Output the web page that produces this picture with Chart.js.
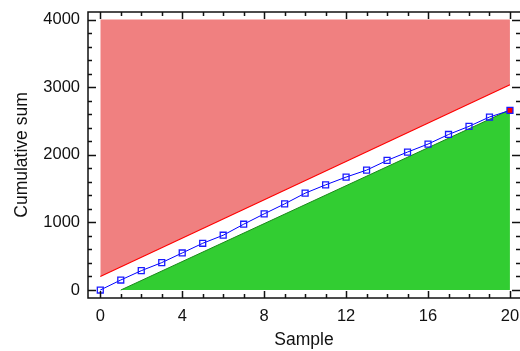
<!DOCTYPE html>
<html lang="en">
<head>
<meta charset="UTF-8">
<title>Cumulative sum</title>
<script src="https://cdn.jsdelivr.net/npm/chart.js"></script>
<style>
  body { margin: 0; background: #fff; }
</style>
</head>
<body>
<canvas id="myChart" width="520" height="351"></canvas>
<script>
    // values
    const samples = [0, 1, 2, 3, 4, 5, 6, 7, 8, 9, 10, 11, 12, 13, 14, 15, 16, 17, 18, 19, 20];
    const cusum = [0, 148, 286, 405, 548, 691, 810, 973, 1126, 1274, 1432, 1555, 1670, 1773, 1916, 2040, 2158, 2300, 2420, 2558, 2656];
    const upperX = [0, 20];
    const upperY = [200, 3035];
    const lowerX = [1, 20];
    const lowerY = [0, 2665];
    const xTicks = [0, 4, 8, 12, 16, 20];
    const yTicks = [0, 1000, 2000, 3000, 4000];
    const xMinorStep = 1;
    const yMinorStep = 200;

    const tickFont = { family: "'Liberation Sans', Arial, sans-serif", size: 16.5 };
    const titleFont = { family: "'Liberation Sans', Arial, sans-serif", size: 17.5 };

    // box round the plot with inward ticks on all four sides
    const framePlugin = {
        id: 'frame',
        afterDraw(chart) {
            const { ctx, chartArea: a, scales: { x, y } } = chart;
            ctx.save();
            ctx.strokeStyle = '#111';
            ctx.lineWidth = 1.5;
            ctx.strokeRect(a.left, a.top, a.right + 2 - a.left, a.bottom - a.top);
            ctx.beginPath();
            for (let v = Math.ceil(x.min); v <= x.max; v += xMinorStep) {
                const px = Math.round(x.getPixelForValue(v)) + 0.5;
                const len = xTicks.includes(v) ? 7 : 4;
                ctx.moveTo(px, a.bottom); ctx.lineTo(px, a.bottom - len);
                ctx.moveTo(px, a.top); ctx.lineTo(px, a.top + len);
            }
            for (let v = Math.ceil(y.min / yMinorStep) * yMinorStep; v <= y.max; v += yMinorStep) {
                const py = Math.round(y.getPixelForValue(v)) + 0.5;
                const len = yTicks.includes(v) ? 8 : 4;
                ctx.moveTo(a.left, py); ctx.lineTo(a.left + len, py);
                ctx.moveTo(a.right, py); ctx.lineTo(a.right - len, py);
            }
            ctx.stroke();
            ctx.restore();
        }
    };

    const ctx = document.getElementById('myChart').getContext('2d');
    const chart = new Chart(ctx, {
        type: 'line',
        data: {
            datasets: [{
                label: 'Cumulative sum',
                data: samples.map((s, i) => ({ x: s, y: cusum[i] })),
                borderColor: '#0000ff',
                borderWidth: 1,
                pointStyle: 'rect',
                pointRadius: 4.2,
                pointBorderWidth: 1.3,
                pointBorderColor: '#1a1aff',
                pointBackgroundColor: samples.map((s, i) => i === samples.length - 1 ? '#ff0000' : 'rgba(255,255,255,0)'),
                fill: false
            }, {
                label: 'Upper',
                data: upperX.map((v, i) => ({ x: v, y: upperY[i] })),
                borderColor: '#ff0000',
                borderWidth: 1.2,
                backgroundColor: '#f08080',
                pointRadius: 0,
                fill: { value: 4000 }
            }, {
                label: 'Lower',
                data: lowerX.map((v, i) => ({ x: v, y: lowerY[i] })),
                borderColor: '#1a8a1a',
                borderWidth: 1,
                backgroundColor: '#32cd32',
                pointRadius: 0,
                fill: { value: 0 }
            }]
        },
        options: {
            responsive: false,
            animation: false,
            layout: { autoPadding: false, padding: { top: 12, right: 0, bottom: 0, left: 0 } },
            plugins: { legend: { display: false }, tooltip: { enabled: false } },
            scales: {
                x: {
                    type: 'linear',
                    min: -0.6,
                    max: 20.49,
                    grid: { display: false, drawTicks: false },
                    border: { display: false },
                    afterBuildTicks: scale => { scale.ticks = xTicks.map(v => ({ value: v })); },
                    afterFit: scale => { scale.height = 53; scale.paddingLeft = 0; scale.paddingRight = 0; },
                    ticks: { font: tickFont, color: '#111', padding: 9, maxRotation: 0, callback: v => String(v) },
                    title: { display: true, text: 'Sample', font: titleFont, color: '#111', padding: { top: 0, bottom: 0 } }
                },
                y: {
                    type: 'linear',
                    min: -118,
                    max: 4111,
                    grid: { display: false, drawTicks: false },
                    border: { display: false },
                    afterBuildTicks: scale => { scale.ticks = yTicks.map(v => ({ value: v })); },
                    afterFit: scale => { scale.width = 88; scale.paddingTop = 0; scale.paddingBottom = 0; },
                    ticks: { font: tickFont, color: '#111', padding: 8, callback: v => String(v) },
                    title: { display: true, text: 'Cumulative sum', font: titleFont, color: '#111', padding: { top: 12, bottom: 0 } }
                }
            }
        },
        plugins: [framePlugin]
    });
</script>
</body>
</html>
